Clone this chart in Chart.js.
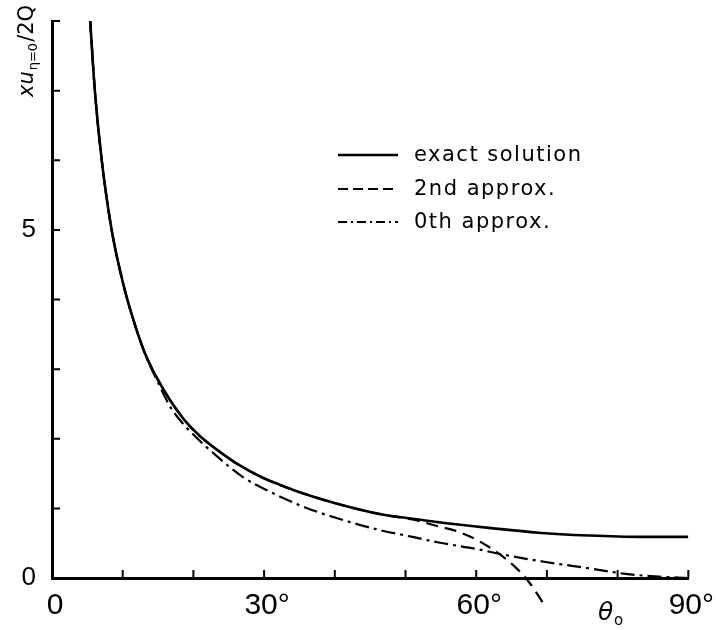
<!DOCTYPE html>
<html>
<head>
<meta charset="utf-8">
<script src="https://cdn.jsdelivr.net/npm/chart.js@4.4.0/dist/chart.umd.min.js"></script>
<style>
html, body { margin: 0; padding: 0; background: #fff; }
</style>
</head>
<body>
<canvas id="myChart" width="716" height="630"></canvas>
<script>
// theta_0 in degrees, values of x*u(eta=0)/2Q
var thetaExact = [5.4, 6.06, 7.0, 8.4, 10.06, 11.5, 13.1, 14.8, 16.6, 18.8, 20.9, 23.5, 26.5, 29.8, 32.2, 34.5, 40.2, 46.3, 51.0, 54.7, 61.8, 68.8, 75.9, 82.9, 90];
var exactValues = [8.0, 7.0, 6.03, 5.02, 4.23, 3.71, 3.24, 2.88, 2.57, 2.26, 2.04, 1.83, 1.62, 1.44, 1.34, 1.25, 1.07, 0.92, 0.85, 0.80, 0.72, 0.65, 0.61, 0.59, 0.59];

var theta2nd = [5.4, 6.06, 7.0, 8.4, 10.06, 11.5, 13.1, 14.8, 16.6, 18.8, 20.9, 23.5, 26.5, 29.8, 32.2, 34.5, 40.2, 46.3, 51.0, 54.7, 57.6, 60.4, 63.2, 65.5, 67.4, 69.8];
var approx2ndValues = [8.0, 7.0, 6.03, 5.02, 4.23, 3.71, 3.24, 2.88, 2.57, 2.26, 2.04, 1.83, 1.62, 1.44, 1.34, 1.25, 1.07, 0.92, 0.84, 0.74, 0.66, 0.53, 0.35, 0.16, -0.05, -0.41];

var theta0th = [5.4, 6.06, 7.0, 8.4, 10.06, 11.5, 13.1, 14.8, 16.6, 17.6, 19.5, 23.2, 27.0, 31.2, 35.9, 40.6, 46.3, 51.0, 54.7, 60.4, 64.1, 69.8, 75.9, 81.1, 85.8, 90];
var approx0thValues = [8.0, 7.0, 6.03, 5.02, 4.23, 3.71, 3.23, 2.85, 2.48, 2.33, 2.11, 1.76, 1.45, 1.22, 1.01, 0.85, 0.69, 0.59, 0.51, 0.41, 0.33, 0.23, 0.14, 0.06, 0.02, 0.0];

var seriesNames = ["exact solution", "2nd approx.", "0th approx."];
var xTickLabels = { 0: "0", 30: "30°", 60: "60°", 90: "90°" };
var yTickLabels = { 0: "0", 5: "5" };

function toPoints(xs, ys) {
  var pts = [];
  for (var i = 0; i < xs.length; i++) pts.push({ x: xs[i], y: ys[i] });
  return pts;
}

var dashStyles = [[], [12, 7], [14, 5, 3, 5]];

// inward tick marks on both axes
var inwardTicks = {
  id: 'inwardTicks',
  afterDraw: function (chart) {
    var ctx = chart.ctx, xs = chart.scales.x, ys = chart.scales.y;
    var left = chart.chartArea.left, bottom = chart.chartArea.bottom;
    ctx.save();
    ctx.strokeStyle = '#000';
    ctx.lineWidth = 2;
    ctx.beginPath();
    for (var t = 10; t <= 90; t += 10) {
      var px = xs.getPixelForValue(t);
      ctx.moveTo(px, bottom);
      ctx.lineTo(px, bottom - 8);
    }
    for (var v = 1; v <= 8; v++) {
      var py = ys.getPixelForValue(v);
      ctx.moveTo(left, py);
      ctx.lineTo(left + 8, py);
    }
    ctx.stroke();
    ctx.restore();
  }
};

// legend inside the plot and axis titles
var annotations = {
  id: 'annotations',
  afterDraw: function (chart) {
    var ctx = chart.ctx;
    ctx.save();
    ctx.fillStyle = '#000';
    ctx.strokeStyle = '#000';
    var rows = [155, 189, 222];
    ctx.font = '21px "DejaVu Sans"';
    ctx.letterSpacing = '1.5px';
    ctx.textBaseline = 'middle';
    for (var i = 0; i < seriesNames.length; i++) {
      var ds = chart.data.datasets[i];
      ctx.lineWidth = ds.borderWidth;
      ctx.setLineDash(i === 0 ? [] : (i === 1 ? [10, 5] : [9, 4, 2, 4]));
      ctx.beginPath();
      ctx.moveTo(338, rows[i]);
      ctx.lineTo(398, rows[i]);
      ctx.stroke();
      ctx.setLineDash([]);
      ctx.fillText(seriesNames[i], 414, rows[i] + 1);
    }
    ctx.letterSpacing = '0px';

    // y-axis title, rotated
    ctx.translate(33, 97);
    ctx.rotate(-Math.PI / 2);
    ctx.textBaseline = 'alphabetic';
    ctx.font = 'italic 21px "DejaVu Sans"';
    ctx.fillText('xu', 0, 0);
    var w = ctx.measureText('xu').width;
    ctx.font = '13px "DejaVu Sans"';
    ctx.fillText('η=0', w + 1, 4);
    w += ctx.measureText('η=0').width + 2;
    ctx.font = '21px "DejaVu Sans"';
    ctx.fillText('/2Q', w, 0);
    ctx.setTransform(1, 0, 0, 1, 0, 0);

    // x-axis title
    ctx.font = 'italic 25px "DejaVu Sans"';
    ctx.fillText('θ', 598, 620);
    ctx.font = '15px "DejaVu Sans"';
    ctx.fillText('o', 614, 625);
    ctx.restore();
  }
};

var canvas = document.getElementById('myChart').getContext('2d');

var chart = new Chart(canvas, {
  type: 'line',
  data: {
    datasets: [
      { label: seriesNames[0], data: toPoints(thetaExact, exactValues), borderColor: '#000', borderWidth: 2.6, borderDash: dashStyles[0], pointRadius: 0, fill: false, cubicInterpolationMode: 'monotone' },
      { label: seriesNames[1], data: toPoints(theta2nd, approx2ndValues), borderColor: '#000', borderWidth: 2.2, borderDash: dashStyles[1], pointRadius: 0, fill: false, cubicInterpolationMode: 'monotone', clip: false },
      { label: seriesNames[2], data: toPoints(theta0th, approx0thValues), borderColor: '#000', borderWidth: 2.2, borderDash: dashStyles[2], pointRadius: 0, fill: false, cubicInterpolationMode: 'monotone' }
    ]
  },
  options: {
    responsive: false,
    animation: false,
    devicePixelRatio: 1,
    layout: { padding: { top: 14, right: 26, left: 0, bottom: 0 } },
    plugins: { legend: { display: false }, tooltip: { enabled: false } },
    scales: {
      x: {
        type: 'linear', min: 0, max: 90,
        grid: { display: false },
        border: { display: true, color: '#000', width: 3 },
        ticks: {
          stepSize: 10, autoSkip: false, maxRotation: 0, padding: 5, labelOffset: 3, color: '#000',
          font: { family: 'Liberation Sans', size: 30, lineHeight: 1 },
          callback: function (v) { return xTickLabels[v] !== undefined ? xTickLabels[v] : ''; }
        },
        afterFit: function (scale) { scale.height = 52; }
      },
      y: {
        min: 0, max: 8,
        grid: { display: false },
        border: { display: true, color: '#000', width: 3 },
        ticks: {
          stepSize: 1, autoSkip: false, padding: 8, color: '#000',
          font: { family: 'Liberation Sans', size: 26, lineHeight: 1 },
          callback: function (v) { return yTickLabels[v] !== undefined ? yTickLabels[v] : ''; }
        },
        afterFit: function (scale) { scale.width = 52; }
      }
    }
  },
  plugins: [inwardTicks, annotations]
});
</script>
</body>
</html>
